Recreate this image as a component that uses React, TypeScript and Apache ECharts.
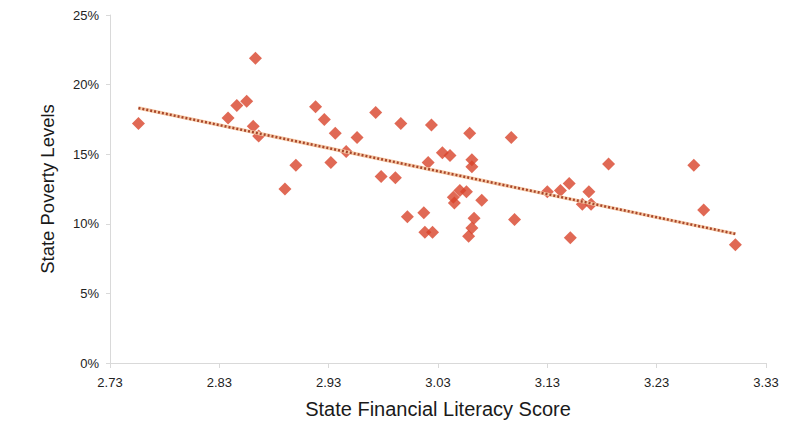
import React, { useEffect, useRef } from "react";
import * as echarts from "echarts";

const literacyScores: number[] = [
  2.756, 2.838, 2.846, 2.855, 2.863, 2.861, 2.866, 2.89, 2.9, 2.918,
  2.926, 2.936, 2.932, 2.946, 2.956, 2.973, 2.978, 2.991, 2.996, 3.002,
  3.017, 3.018, 3.025, 3.021, 3.024, 3.034, 3.041, 3.044, 3.045, 3.05,
  3.056, 3.058, 3.059, 3.061, 3.061, 3.063, 3.061, 3.07, 3.097, 3.1,
  3.13, 3.142, 3.15, 3.151, 3.162, 3.168, 3.17, 3.186, 3.264, 3.273, 3.302,
];
const povertyLevels: number[] = [
  17.2, 17.6, 18.5, 18.8, 21.9, 17.0, 16.3, 12.5, 14.2, 18.4,
  17.5, 16.5, 14.4, 15.2, 16.2, 18.0, 13.4, 13.3, 17.2, 10.5,
  10.8, 9.4, 9.4, 14.4, 17.1, 15.1, 14.9, 11.9, 11.5, 12.4,
  12.3, 9.1, 16.5, 14.6, 14.1, 10.4, 9.7, 11.7, 16.2, 10.3,
  12.3, 12.4, 12.9, 9.0, 11.4, 12.3, 11.4, 14.3, 14.2, 11.0, 8.5,
];
const xTickStart = 2.73;
const xTickLabels: string[] = ["2.73", "2.83", "2.93", "3.03", "3.13", "3.23", "3.33"];
const yTickLabels: string[] = ["0%", "5%", "10%", "15%", "20%", "25%"];

export default function App() {
  const ref = useRef<HTMLDivElement>(null);
  useEffect(() => {
    if (!ref.current) return;
    const chart = echarts.init(ref.current, null, { renderer: "svg" });
    const n = literacyScores.length;
    const mx = literacyScores.reduce((a, b) => a + b, 0) / n;
    const my = povertyLevels.reduce((a, b) => a + b, 0) / n;
    let sxy = 0, sxx = 0;
    for (let i = 0; i < n; i++) {
      sxy += (literacyScores[i] - mx) * (povertyLevels[i] - my);
      sxx += (literacyScores[i] - mx) ** 2;
    }
    const slope = sxy / sxx;
    const icpt = my - slope * mx;
    const xmin = Math.min(...literacyScores);
    const xmax = Math.max(...literacyScores);
    const trend = [
      [xmin - xTickStart, icpt + slope * xmin],
      [xmax - xTickStart, icpt + slope * xmax],
    ];
    const pts = literacyScores.map((x, i) => [x - xTickStart, povertyLevels[i]]);
    const font = "Liberation Sans, Arial, sans-serif";
    chart.setOption({
      animation: false,
      grid: { left: 110, top: 15, width: 656, height: 348 },
      xAxis: {
        type: "value",
        min: 0,
        max: 0.6,
        interval: 0.1,
        name: "State Financial Literacy Score",
        nameLocation: "middle",
        nameGap: 36,
        nameTextStyle: { fontSize: 20, color: "#1a1a1a", fontFamily: font },
        axisLine: { show: true, lineStyle: { color: "#d9d9d9", width: 1 } },
        axisTick: { show: true, length: 5, lineStyle: { color: "#d9d9d9" } },
        splitLine: { show: false },
        axisLabel: {
          fontSize: 13,
          color: "#222",
          fontFamily: font,
          margin: 13,
          formatter: (v: number) => xTickLabels[Math.round(v / 0.1)] ?? "",
        },
      },
      yAxis: {
        type: "value",
        min: 0,
        max: 25,
        interval: 5,
        name: "State Poverty Levels",
        nameLocation: "middle",
        nameGap: 53,
        nameTextStyle: { fontSize: 18.5, color: "#1a1a1a", fontFamily: font },
        axisLine: { show: true, lineStyle: { color: "#d9d9d9", width: 1 } },
        axisTick: { show: true, length: 4, lineStyle: { color: "#d9d9d9" } },
        splitLine: { show: false },
        axisLabel: {
          fontSize: 13,
          color: "#222",
          fontFamily: font,
          margin: 11,
          formatter: (v: number) => yTickLabels[Math.round(v / 5)] ?? "",
        },
      },
      series: [
        {
          type: "scatter",
          data: pts,
          symbol: "diamond",
          symbolSize: 13,
          itemStyle: { color: "#d8432a" },
          z: 2,
        },
        {
          type: "line",
          data: trend,
          symbol: "none",
          lineStyle: { color: "#f6c9a6", width: 3.5 },
          z: 3,
        },
        {
          type: "line",
          data: trend,
          symbol: "none",
          lineStyle: { color: "#a8452a", width: 2.5, type: [2, 2] },
          z: 4,
        },
      ],
    });
    return () => chart.dispose();
  }, []);
  return (
    <div
      ref={ref}
      style={{ position: "fixed", left: 0, top: 0, width: 802, height: 439, background: "#fff" }}
    />
  );
}
